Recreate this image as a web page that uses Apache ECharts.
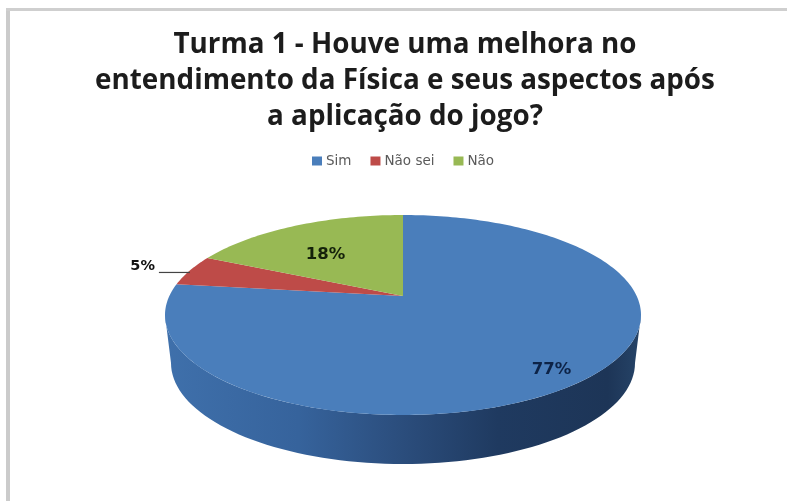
<!DOCTYPE html>
<html>
<head>
<meta charset="utf-8">
<style>
html,body{margin:0;padding:0;background:#fff}
#main{width:787px;height:501px;filter:blur(0.7px)}
</style>
<script src="https://cdn.jsdelivr.net/npm/echarts@6/dist/echarts.min.js"></script>
</head>
<body>
<div id="main"></div>
<script>
const titleLines = ['Turma 1 - Houve uma melhora no','entendimento da Física e seus aspectos após','a aplicação do jogo?'];
const categories = ['Sim','Não sei','Não'];
const seriesValues = [77,5,18];
const sliceColors = ['#4a7ebb','#be4b48','#98b954'];

// Layout of the tilted pie (pixels)
const pie = {cx:403, cy:315, rx:238, ry:100, tilt:-0.19, depth:{cy:363, rx:232, ry:101}};
const labelRadius = [0.855, 1, 0.6];
const labelNudge = [[-2,3],[0,0],[-9,3]];
const total = seriesValues.reduce((a,b)=>a+b,0);
const starts = seriesValues.map((_,i)=>seriesValues.slice(0,i).reduce((a,b)=>a+b,0));

// unit-disc point at clockwise angle from 12 o'clock, projected to the tilted face
function project(frac, r){
  const a = frac/total*2*Math.PI, u = r*Math.sin(a), v = -r*Math.cos(a), p = pie.tilt;
  const d = 1 + p*v;
  return [pie.cx + pie.rx*u*Math.sqrt(1-p*p)/d, pie.cy + pie.ry*(v+p)/d];
}
function wallPoints(){
  const pts = [], n = 80;
  for(let i=0;i<=n;i++){const t=Math.PI*i/n; pts.push([pie.cx+pie.rx*Math.cos(t), pie.cy+pie.ry*Math.sin(t)]);}
  for(let i=n;i>=0;i--){const t=Math.PI*i/n; pts.push([pie.cx+pie.depth.rx*Math.cos(t), pie.depth.cy+pie.depth.ry*Math.sin(t)]);}
  return pts;
}
function makeRender(idx){
  return function(params, api){
    const value = api.value(0), start = api.value(1);
    const children = [];
    if(idx===0){
      children.push({type:'polygon',shape:{points:wallPoints()},silent:true,style:{
        fill:{type:'linear',x:0,y:0,x2:1,y2:0,colorStops:[
          {offset:0,color:'#3f70ab'},{offset:0.28,color:'#36639c'},{offset:0.5,color:'#2b4d7c'},
          {offset:0.7,color:'#1f3a60'},{offset:0.93,color:'#1d3557'},{offset:1,color:'#264468'}]}
      }});
    }
    const pts = [project(0,0)], n = Math.max(6,Math.round(value*3));
    for(let i=0;i<=n;i++) pts.push(project(start+value*i/n,1));
    children.push({type:'polygon',shape:{points:pts},style:{fill:sliceColors[idx]}});
    const lp = project(start+value/2, labelRadius[idx]);
    const font = 'bold 16.5px "DejaVu Sans", sans-serif';
    if(idx===1){
      children.push({type:'line',shape:{x1:lp[0],y1:lp[1]+2,x2:lp[0]-31,y2:lp[1]+2},style:{stroke:'#444',lineWidth:1.2}});
      children.push({type:'text',style:{text:value+'%',x:lp[0]-35,y:lp[1]-4,align:'right',verticalAlign:'middle',fill:'#111',font:'bold 14.5px "DejaVu Sans", sans-serif'}});
    }else{
      children.push({type:'text',style:{text:value+'%',x:lp[0]+labelNudge[idx][0],y:lp[1]+labelNudge[idx][1],align:'center',verticalAlign:'middle',fill:idx===0?'#0d2347':'#14210a',font:font}});
    }
    return {type:'group',children:children};
  };
}
const chart = echarts.init(document.getElementById('main'),null,{renderer:'canvas'});
chart.setOption({
  animation:false,
  backgroundColor:'#ffffff',
  title:{
    text:titleLines.join('\n'),
    left:400, top:22, textAlign:'center',
    textStyle:{fontFamily:'"Open Sans", sans-serif',fontWeight:'bold',fontSize:27.8,lineHeight:36,color:'#1c1c1c'}
  },
  legend:{
    data:categories, left:312, top:154, padding:0, icon:'rect', itemWidth:10, itemHeight:9, itemGap:19,
    selectedMode:false,
    textStyle:{fontFamily:'"DejaVu Sans", sans-serif',fontSize:13.5,color:'#5a5a5a',padding:[0,0,0,-1]}
  },
  graphic:[
    {type:'rect',shape:{x:6,y:8,width:4,height:493},style:{fill:'#cbcbcb'},silent:true},
    {type:'rect',shape:{x:6,y:8,width:781,height:3},style:{fill:'#cfcfcf'},silent:true}
  ],
  series:categories.map((name,i)=>({
    type:'custom', name:name, coordinateSystem:'none',
    itemStyle:{color:sliceColors[i]},
    renderItem:makeRender(i),
    encode:{},
    data:[[seriesValues[i],starts[i]]]
  }))
});
</script>
</body>
</html>
